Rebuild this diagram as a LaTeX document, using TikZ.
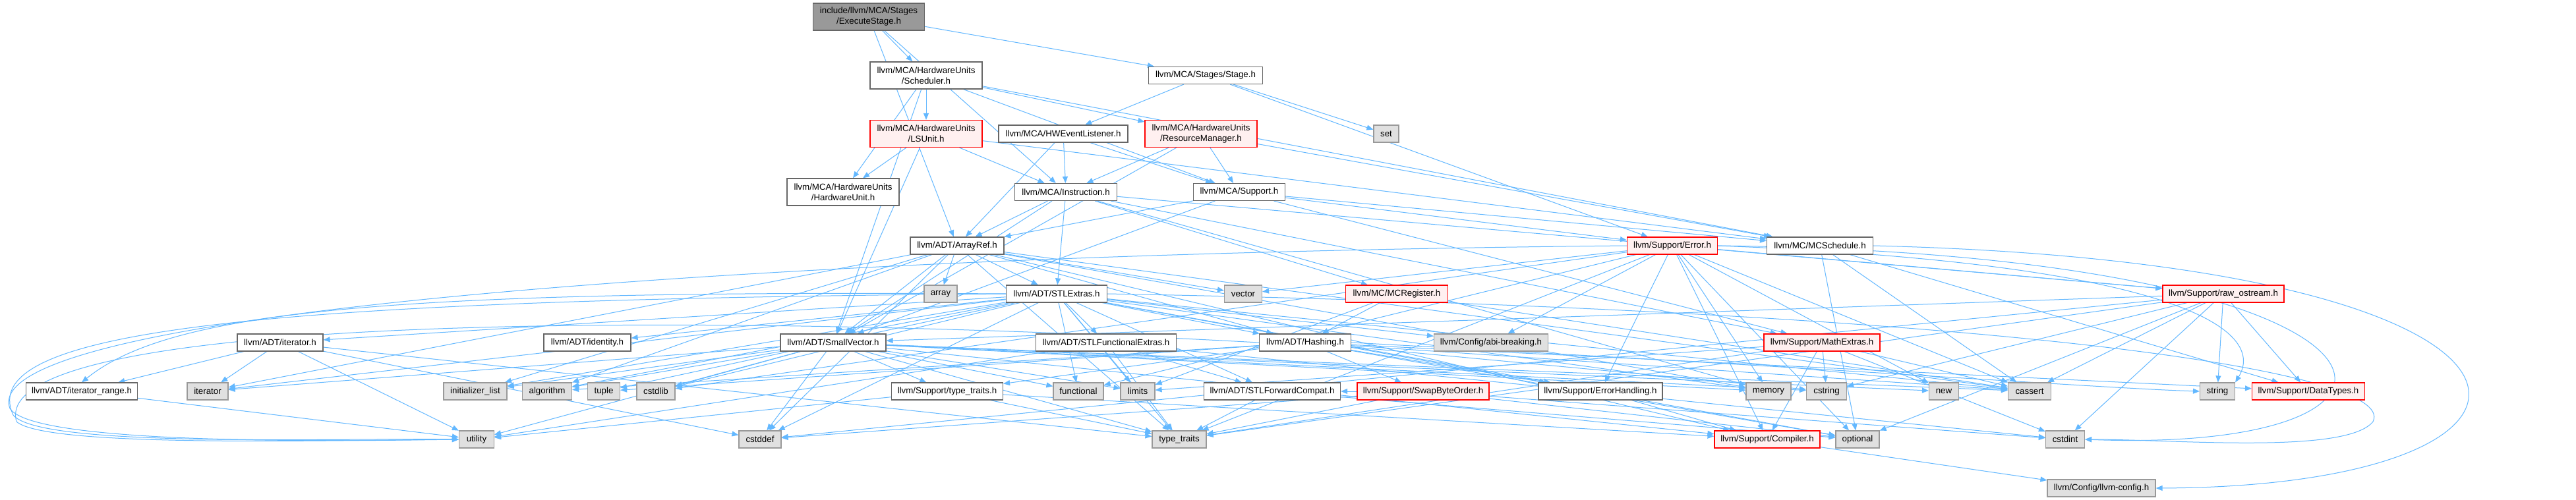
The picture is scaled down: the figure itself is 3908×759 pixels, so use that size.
\documentclass[tikz,border=0pt]{standalone}
\usepackage{fontspec}
\setmainfont{Liberation Sans}
\usetikzlibrary{arrows.meta,backgrounds}
\definecolor{edgeblue}{HTML}{63B8FF}
\definecolor{borderdark}{HTML}{666666}
\definecolor{bordersys}{HTML}{999999}
\definecolor{fillsys}{HTML}{E0E0E0}
\definecolor{fillred}{HTML}{FFF0F0}
\definecolor{fillroot}{HTML}{999999}
\begin{document}
\begin{tikzpicture}[x=0.75pt,y=-0.75pt,
  base/.style={draw, font=\fontsize{10}{12}\selectfont, inner sep=1pt, align=center, minimum height=19.5pt, line width=0.9pt},
  wnode/.style={base, draw=borderdark, fill=white},
  rnode/.style={base, draw=red, fill=fillred},
  snode/.style={base, draw=bordersys, fill=fillsys},
  rootnode/.style={base, draw=borderdark, fill=fillroot},
  tall/.style={minimum height=30.75pt},
  wd/.style={minimum width=#1*0.75pt},
  dep/.style={draw=edgeblue, line width=0.75pt, -{Triangle[length=7.5pt,width=6pt]}}
]
% nodes
\node[rootnode,tall,wd=169] (root) at (1318,25.5) {include/llvm/MCA/Stages\\/ExecuteStage.h};
\node[wnode,tall,wd=170] (sched) at (1405,114.5) {llvm/MCA/HardwareUnits\\/Scheduler.h};
\node[wnode,wd=173] (stage) at (1829,114.5) {llvm/MCA/Stages/Stage.h};
\node[snode,wd=38] (setn) at (2103,203) {set};
\node[rnode,tall,wd=170] (lsu) at (1405,203) {llvm/MCA/HardwareUnits\\/LSUnit.h};
\node[wnode,wd=196] (hwe) at (1613,203) {llvm/MCA/HWEventListener.h};
\node[rnode,tall,wd=170] (rm) at (1822,203) {llvm/MCA/HardwareUnits\\/ResourceManager.h};
\node[wnode,tall,wd=170] (hwu) at (1279,291.5) {llvm/MCA/HardwareUnits\\/HardwareUnit.h};
\node[wnode,wd=155] (instr) at (1617,291.5) {llvm/MCA/Instruction.h};
\node[wnode,wd=139] (msup) at (1880,291.5) {llvm/MCA/Support.h};
\node[wnode,wd=142] (aref) at (1452,373) {llvm/ADT/ArrayRef.h};
\node[rnode,wd=137] (err) at (2537,373) {llvm/Support/Error.h};
\node[wnode,wd=161] (mcs) at (2761,373) {llvm/MC/MCSchedule.h};
\node[snode,wd=50] (arr) at (1427,446) {array};
\node[wnode,wd=153] (stlx) at (1603,446) {llvm/ADT/STLExtras.h};
\node[snode,wd=57] (vec) at (1886,446) {vector};
\node[rnode,wd=155] (mcr) at (2119,446) {llvm/MC/MCRegister.h};
\node[rnode,wd=184] (raw) at (3373,446) {llvm/Support/raw\_ostream.h};
\node[wnode,wd=130] (iterh) at (425,520) {llvm/ADT/iterator.h};
\node[wnode,wd=132] (ident) at (891,520) {llvm/ADT/identity.h};
\node[wnode,wd=160] (svec) at (1264,520) {llvm/ADT/SmallVector.h};
\node[wnode,wd=213] (sfe) at (1678,520) {llvm/ADT/STLFunctionalExtras.h};
\node[wnode,wd=139] (hash) at (1980,520) {llvm/ADT/Hashing.h};
\node[snode,wd=173] (abi) at (2262,520) {llvm/Config/abi-breaking.h};
\node[rnode,wd=176] (math) at (2764,520) {llvm/Support/MathExtras.h};
\node[wnode,wd=169] (itr) at (124,594) {llvm/ADT/iterator\_range.h};
\node[snode,wd=62] (iter) at (315,594) {iterator};
\node[snode,wd=96] (ilist) at (721,594) {initializer\_list};
\node[snode,wd=75] (algo) at (830,594) {algorithm};
\node[snode,wd=49] (tup) at (916,594) {tuple};
\node[snode,wd=58] (cstdlib) at (995,594) {cstdlib};
\node[wnode,wd=169] (stt) at (1437,594) {llvm/Support/type\_traits.h};
\node[snode,wd=76] (func) at (1636,594) {functional};
\node[snode,wd=52] (lim) at (1726,594) {limits};
\node[wnode,wd=207] (sfc) at (1930,594) {llvm/ADT/STLForwardCompat.h};
\node[rnode,wd=200] (sbo) at (2159,594) {llvm/Support/SwapByteOrder.h};
\node[wnode,wd=188] (eh) at (2428,594) {llvm/Support/ErrorHandling.h};
\node[snode,wd=68] (mem) at (2683,594) {memory};
\node[snode,wd=61] (cstr) at (2771,594) {cstring};
\node[snode,wd=45] (nw) at (2949,594) {new};
\node[snode,wd=65] (cass) at (3079,594) {cassert};
\node[snode,wd=53] (str) at (3364,594) {string};
\node[rnode,wd=171] (dt) at (3502,594) {llvm/Support/DataTypes.h};
\node[snode,wd=53] (util) at (723,667) {utility};
\node[snode,wd=64] (cstddef) at (1153,667) {cstddef};
\node[snode,wd=82] (tt) at (1789,667) {type\_traits};
\node[rnode,wd=160] (comp) at (2681,667) {llvm/Support/Compiler.h};
\node[snode,wd=66] (opt) at (2818,667) {optional};
\node[snode,wd=59] (cstdint) at (3133,667) {cstdint};
\node[snode,wd=164] (cfg) at (3188,741) {llvm/Config/llvm-config.h};
% edges
\begin{pgfonlayer}{background}
\path[fill=white, use as bounding box] (0,0) rectangle (3908,759);
\foreach \a/\b in {root/sched, root/stage, root/aref, root/instr,
  sched/lsu, sched/rm, sched/hwu, sched/svec, sched/msup, sched/mcs,
  stage/hwe, stage/err, stage/setn,
  hwe/aref, hwe/instr, hwe/msup,
  lsu/svec, lsu/mcs, lsu/hwu, lsu/instr,
  rm/svec, rm/mcs, rm/instr, rm/msup,
  instr/aref, instr/stlx, instr/svec, instr/mcr, instr/math, instr/raw, instr/mem,
  msup/aref, msup/svec, msup/mcs, msup/err, msup/math,
  aref/hash, aref/stlx, aref/svec, aref/comp, aref/algo, aref/arr, aref/cass, aref/cstddef, aref/ilist, aref/iter, aref/mem, aref/tt, aref/vec,
  stlx/hash, stlx/sfc, stlx/sfe, stlx/ident, stlx/iterh, stlx/abi, stlx/eh, stlx/algo, stlx/cass, stlx/cstddef, stlx/cstdlib, stlx/func, stlx/ilist, stlx/iter, stlx/lim, stlx/mem, stlx/opt, stlx/tup, stlx/tt,
  svec/comp, svec/stt, svec/algo, svec/cass, svec/cstddef, svec/cstdlib, svec/cstr, svec/func, svec/ilist, svec/iter, svec/lim, svec/mem, svec/nw, svec/tt, svec/util,
  iterh/itr, iterh/cstddef, iterh/iter, iterh/tt, iterh/util,
  itr/util,
  sfe/sfc, sfe/cstdint, sfe/tt, sfe/util,
  sfc/opt, sfc/tt,
  hash/dt, hash/eh, hash/sbo, hash/stt, hash/algo, hash/cass, hash/cstr, hash/opt, hash/tup,
  stt/comp, stt/tt, stt/util,
  mcr/hash, mcr/cass, mcr/lim,
  mcs/dt, mcs/cass, mcs/opt,
  err/abi, err/comp, err/eh, err/raw, err/cass, err/cstdlib, err/func, err/mem, err/nw, err/opt, err/tt, err/vec,
  raw/svec, raw/dt, raw/cass, raw/cstddef, raw/cstdint, raw/cstr, raw/opt, raw/str, raw/tt,
  math/comp, math/cass, math/cstdint, math/cstr, math/lim, math/tt,
  sbo/sfc, sbo/cstddef, sbo/cstdint, sbo/opt, sbo/tt,
  eh/comp, comp/cfg}
  \draw[dep] (\a) -- (\b);
% long routed edges
\draw[dep] (mcs.east) .. controls (3960,400) and (3960,738) .. (cfg.east);
\draw[dep] (err.east) .. controls (3700,385) and (3760,690) .. (cstdint.east);
\draw[dep] (stlx.east) .. controls (3000,470) and (3640,560) .. (3600,640) .. controls (3560,690) and (3300,667) .. (cstdint.east);
\draw[dep] (err.east) .. controls (3300,400) and (3440,500) .. (str.north east);
\draw[dep] (hash.east) .. controls (2800,560) and (3200,590) .. (str.west);
\draw[dep] (stlx.west) .. controls (600,440) and (260,470) .. (itr.north);
\draw[dep] (stlx.west) .. controls (400,455) and (-40,500) .. (20,630) .. controls (60,680) and (500,665) .. (util.west);
\draw[dep] (err.west) .. controls (1200,385) and (-40,470) .. (15,620) .. controls (50,675) and (500,670) .. (util.west);
\draw[dep] (hash.west) .. controls (1000,470) and (-20,480) .. (25,640) .. controls (70,680) and (500,668) .. (util.west);
\end{pgfonlayer}
\end{tikzpicture}
\end{document}
